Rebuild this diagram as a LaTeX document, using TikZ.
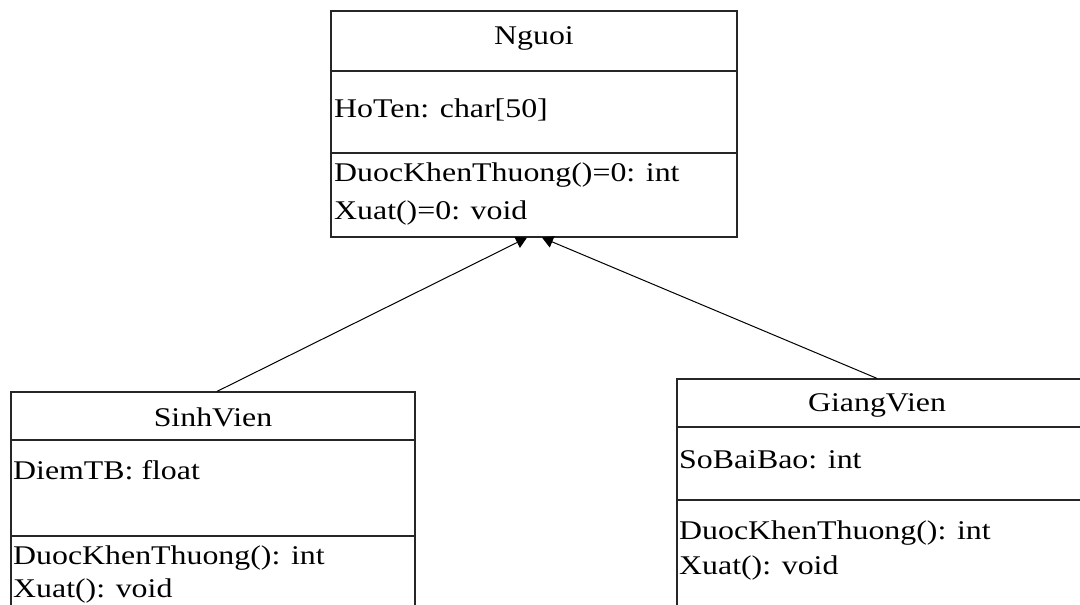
\documentclass[tikz,border=0pt]{standalone}
\usepackage{fontspec}
\setmainfont{Liberation Serif}[FakeStretch=1.18]
\usetikzlibrary{arrows.meta,calc}
\begin{document}
\begin{tikzpicture}[x=1pt,y=-1pt,
  box/.style={draw=black!85, line width=1.2pt, rectangle, inner sep=0pt},
  sep/.style={draw=black!85, line width=1.2pt},
  ttl/.style={font=\fontsize{27}{30}\selectfont, inner sep=0pt, anchor=center},
  txt/.style={font=\fontsize{27}{30}\selectfont, inner sep=0pt, anchor=west},
  inh/.style={draw=black, line width=1pt, -{Triangle[length=11pt,width=12pt]}}]
\clip (0,0) rectangle (1080,605);
\useasboundingbox (0,0) rectangle (1080,605);
\fill[white] (0,0) rectangle (1080,605);
% Nguoi
\node[box, minimum width=406pt, minimum height=226pt] (nguoi) at (534,124) {};
\draw[sep] (331,71) -- (737,71);
\draw[sep] (331,153) -- (737,153);
\node[ttl] (nguoiT) at (534,38) {Nguoi};
\node[txt] (nguoiA) at (334,110) {HoTen: char[50]};
\node[txt] (nguoiM1) at (334,175) {DuocKhenThuong()=0: int};
\node[txt] (nguoiM2) at (334,213) {Xuat()=0: void};
% SinhVien
\node[box, minimum width=404pt, minimum height=260pt] (sinh) at (213,522) {};
\draw[sep] (11,440) -- (415,440);
\draw[sep] (11,536) -- (415,536);
\node[ttl] (sinhT) at (213,417) {SinhVien};
\node[txt] (sinhA) at (13,470) {DiemTB: float};
\node[txt] (sinhM1) at (13,558) {DuocKhenThuong(): int};
\node[txt] (sinhM2) at (13,591) {Xuat(): void};
% GiangVien
\node[box, minimum width=460pt, minimum height=260pt] (giang) at (907,509) {};
\draw[sep] (677,427) -- (1137,427);
\draw[sep] (677,500) -- (1137,500);
\node[ttl] (giangT) at (877,405) {GiangVien};
\node[txt] (giangA) at (679,460) {SoBaiBao: int};
\node[txt] (giangM1) at (679,533) {DuocKhenThuong(): int};
\node[txt] (giangM2) at (679,568) {Xuat(): void};
% connectors
\coordinate (tipL) at ([xshift=-7pt]nguoi.south);
\coordinate (tipR) at ([xshift=8pt]nguoi.south);
\coordinate (srcL) at ([xshift=4pt]sinh.north);
\coordinate (srcR) at ([xshift=-30pt]giang.north);
\draw[inh] (srcL) -- (tipL);
\draw[inh] (srcR) -- (tipR);
\end{tikzpicture}
\end{document}
